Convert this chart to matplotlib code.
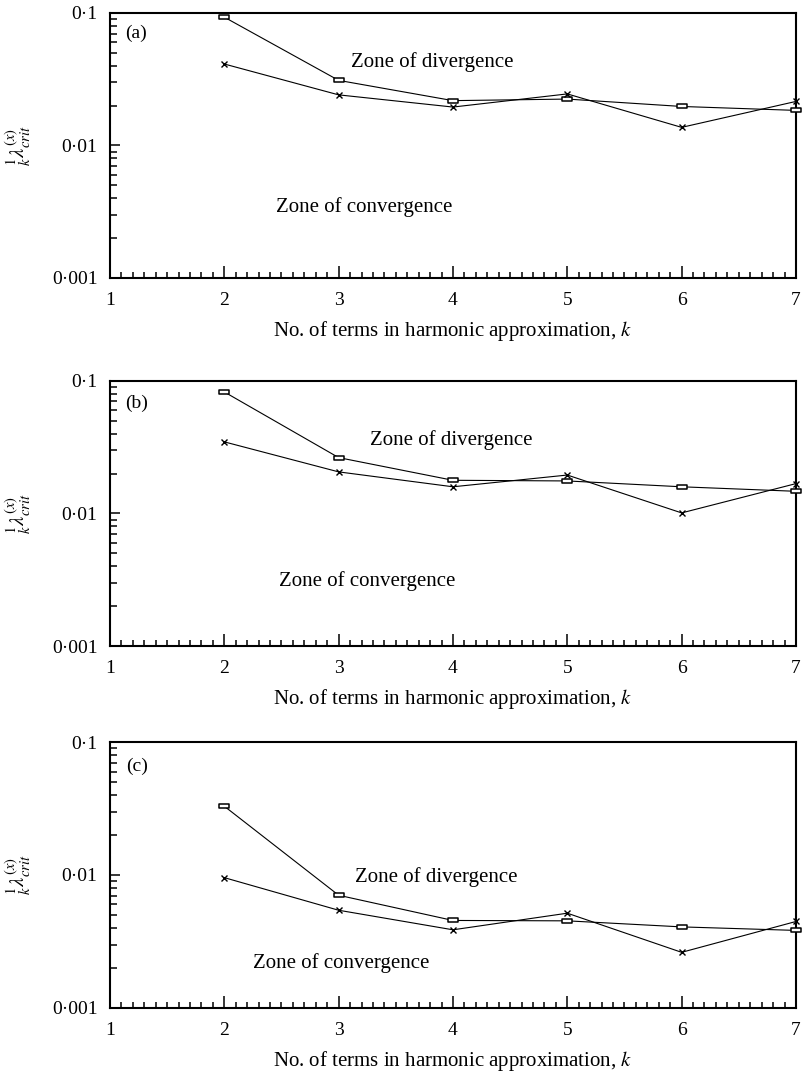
import numpy as np
import matplotlib
matplotlib.use('Agg')
import matplotlib.pyplot as plt
from matplotlib.path import Path
from matplotlib.ticker import FixedLocator, FixedFormatter, LogLocator, NullFormatter, MultipleLocator

plt.rcParams['font.family'] = ['Liberation Serif', 'DejaVu Serif']
plt.rcParams['mathtext.fontset'] = 'stix'

# number of terms in the harmonic approximation
k = [2, 3, 4, 5, 6, 7]

# critical values, panel (a)
a_square = [0.093, 0.031, 0.0218, 0.0224, 0.0197, 0.0184]
a_cross = [0.0412, 0.0241, 0.0195, 0.0245, 0.0137, 0.0215]
# panel (b)
b_square = [0.0826, 0.0264, 0.0178, 0.0176, 0.0159, 0.0147]
b_cross = [0.0347, 0.0206, 0.0159, 0.0195, 0.0101, 0.0168]
# panel (c)
c_square = [0.0329, 0.00704, 0.00455, 0.00452, 0.00407, 0.00383]
c_cross = [0.00955, 0.00543, 0.00387, 0.00516, 0.00262, 0.00447]

panel_names = ['(a)', '(b)', '(c)']
y_ticks = [0.001, 0.01, 0.1]
y_ticklabels = ['0\u00b7001', '0\u00b701', '0\u00b71']
x_ticks = [1, 2, 3, 4, 5, 6, 7]

# flat open rectangle marker
rect = Path([(-1, -0.42), (1, -0.42), (1, 0.42), (-1, 0.42), (-1, -0.42)],
            [Path.MOVETO, Path.LINETO, Path.LINETO, Path.LINETO, Path.CLOSEPOLY])

# axes boxes [left, bottom, width, height] in figure fractions
boxes = [[0.1368, 0.7412, 0.8532, 0.2467],
         [0.1368, 0.3985, 0.8532, 0.2468],
         [0.1368, 0.0615, 0.8532, 0.2476]]
# text positions (axes fraction)
div_pos = [(0.351, 0.815), (0.379, 0.777), (0.357, 0.494)]
conv_pos = [(0.242, 0.268), (0.246, 0.245), (0.208, 0.170)]
lab_pos = [(0.022, 0.925), (0.022, 0.917), (0.023, 0.909)]

fig = plt.figure(figsize=(8.04, 10.74), dpi=100)

data = [(a_square, a_cross), (b_square, b_cross), (c_square, c_cross)]
for i in range(3):
    ax = fig.add_axes(boxes[i])
    sq, cr = data[i]
    ax.plot(k, sq, color='black', lw=0.8, marker=rect, ms=7.5,
            mfc='white', mec='black', mew=1.1, clip_on=False, zorder=3)
    ax.plot(k, cr, color='black', lw=0.8, marker='x', ms=4.5,
            mec='black', mew=1.0, clip_on=False, zorder=3)

    ax.set_yscale('log')
    ax.set_ylim(0.001, 0.1)
    ax.set_xlim(1, 7)
    ax.yaxis.set_major_locator(FixedLocator(y_ticks))
    ax.yaxis.set_major_formatter(FixedFormatter(y_ticklabels))
    ax.yaxis.set_minor_locator(LogLocator(base=10, subs=np.arange(2, 10)))
    ax.yaxis.set_minor_formatter(NullFormatter())
    ax.xaxis.set_major_locator(FixedLocator(x_ticks))
    ax.xaxis.set_minor_locator(MultipleLocator(0.1))

    ax.tick_params(which='both', direction='in', top=False, right=False,
                   labelsize=14, width=1.1)
    ax.tick_params(axis='y', which='major', length=7, pad=9)
    ax.tick_params(axis='y', which='minor', length=5)
    ax.tick_params(axis='x', which='major', length=9, pad=10)
    ax.tick_params(axis='x', which='minor', length=4)
    for s in ax.spines.values():
        s.set_linewidth(1.5)

    ax.set_xlabel('No. of terms in harmonic approximation, $\\mathit{k}$',
                  fontsize=15, labelpad=7)
    ax.set_ylabel('${}^{1}_{k}\\lambda^{(x)}_{crit}$', fontsize=15)
    ax.yaxis.set_label_coords(-0.112, 0.5)

    ax.text(lab_pos[i][0], lab_pos[i][1], panel_names[i], transform=ax.transAxes,
            fontsize=14, ha='left', va='center')
    ax.text(div_pos[i][0], div_pos[i][1], 'Zone of divergence', transform=ax.transAxes,
            fontsize=15, ha='left', va='center')
    ax.text(conv_pos[i][0], conv_pos[i][1], 'Zone of convergence', transform=ax.transAxes,
            fontsize=15, ha='left', va='center')

fig.savefig('out.png', dpi=100)
